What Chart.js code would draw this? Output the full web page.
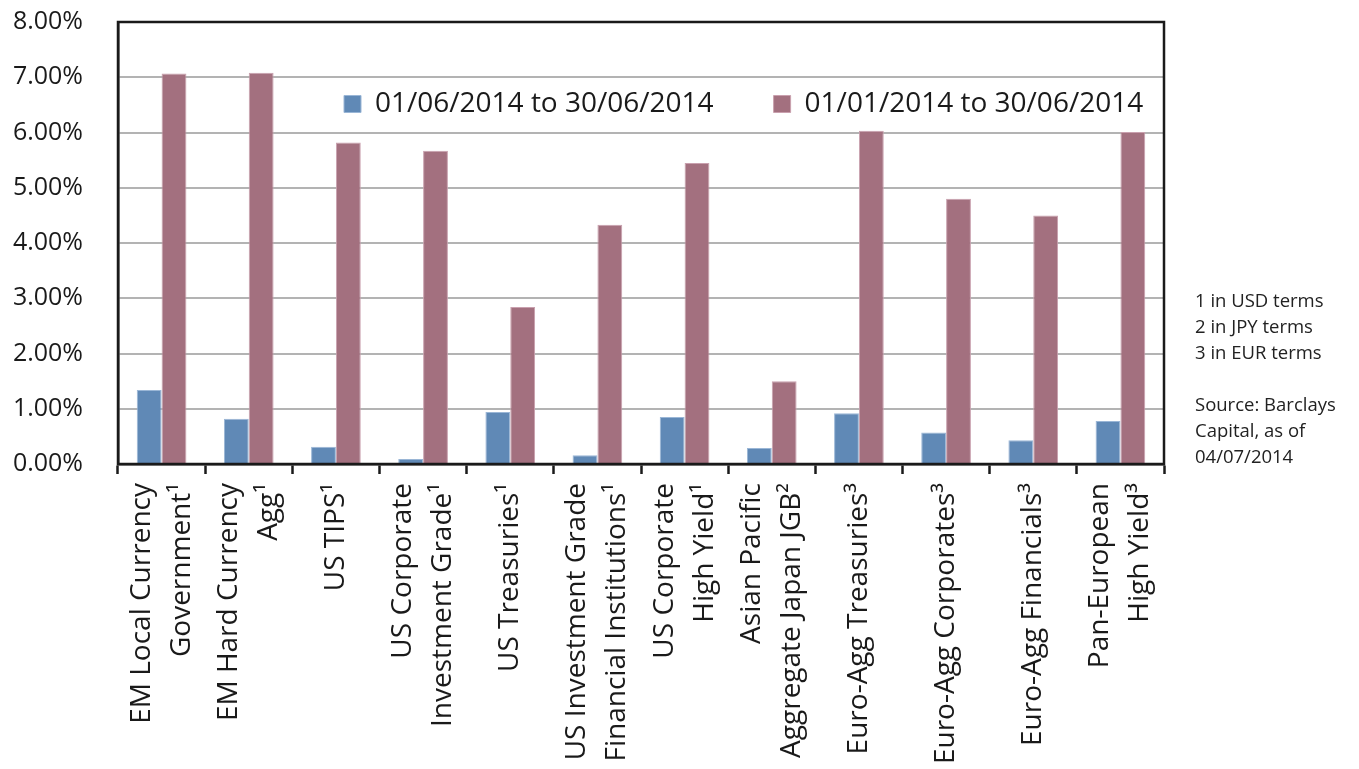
<!DOCTYPE html>
<html><head><meta charset="utf-8">
<script src="https://cdn.jsdelivr.net/npm/chart.js@4.4.1/dist/chart.umd.min.js"></script>
<style>
html,body{margin:0;padding:0;background:#fff;}
#wrap{position:relative;width:1359px;height:769px;overflow:hidden;}
#notes{position:absolute;left:1195px;top:287px;font-family:"Open Sans";font-size:18.5px;line-height:26px;color:#222;white-space:nowrap;}
</style></head><body>
<div id="wrap"><canvas id="c" width="1359" height="769"></canvas>
<div id="notes">1 in USD terms<br>2 in JPY terms<br>3 in EUR terms<br><br>Source: Barclays<br>Capital, as of<br>04/07/2014</div></div>
<script>
const categories = [
  "EM Local Currency\nGovernment¹",
  "EM Hard Currency\nAgg¹",
  "US TIPS¹",
  "US Corporate\nInvestment Grade¹",
  "US Treasuries¹",
  "US Investment Grade\nFinancial Institutions¹",
  "US Corporate\nHigh Yield¹",
  "Asian Pacific\nAggregate Japan JGB²",
  "Euro-Agg Treasuries³",
  "Euro-Agg Corporates³",
  "Euro-Agg Financials³",
  "Pan-European\nHigh Yield³"
];
const seriesNames = ["01/06/2014 to 30/06/2014", "01/01/2014 to 30/06/2014"];
const juneReturns = [1.34, 0.82, 0.31, 0.09, 0.94, 0.16, 0.85, 0.29, 0.92, 0.57, 0.43, 0.78];
const ytdReturns  = [7.07, 7.08, 5.82, 5.67, 2.84, 4.33, 5.45, 1.50, 6.03, 4.80, 4.50, 6.01];
const yTickValues = [0, 1, 2, 3, 4, 5, 6, 7, 8];

const FONT = "Open Sans";
const TEXT = "#1a1a1a";
const LINE_H = 40;

const labelLines = categories.map(c => c.split("\n"));
const xLabels = labelLines.map(l => l.length === 1 ? ["", l[0]] : l);

const framePlugin = {
  id: "frame",
  afterDatasetsDraw(chart) {
    const {ctx, chartArea: a} = chart;
    ctx.save();
    ctx.strokeStyle = TEXT;
    ctx.lineWidth = 2.5;
    ctx.strokeRect(a.left, a.top, a.right - a.left, a.bottom - a.top);
    ctx.restore();
  }
};
const legendPlace = {
  id: "legendPlace",
  beforeLayout(chart) {
    const lg = chart.legend;
    if (lg) lg.isHorizontal = () => true;
  },
  afterLayout(chart) {
    const lg = chart.legend;
    if (!lg) return;
    const P = lg.options.labels.padding;
    const w = lg.width, h = lg.height;
    lg.left = 344 - P; lg.top = 90 - P;
    lg.right = lg.left + w; lg.bottom = lg.top + h;
  }
};

new Chart(document.getElementById("c"), {
  type: "bar",
  data: {
    labels: xLabels,
    datasets: [
      {label: seriesNames[0], data: juneReturns, backgroundColor: "#6089b6", borderColor: "#9ab6d6", borderWidth: 1,
       categoryPercentage: 0.57, barPercentage: 1.0},
      {label: seriesNames[1], data: ytdReturns, backgroundColor: "#a3707f", borderColor: "#c9a0ae", borderWidth: 1,
       categoryPercentage: 0.57, barPercentage: 1.0}
    ]
  },
  options: {
    responsive: false,
    animation: false,
    layout: {padding: {left: 0, right: 195, top: 22, bottom: 0}},
    plugins: {
      legend: {
        position: "chartArea",
        align: "start",
        labels: {
          boxWidth: 17, boxHeight: 17, padding: 60, color: TEXT,
          font: {family: FONT, size: 28}
        }
      },
      tooltip: {enabled: false}
    },
    scales: {
      x: {
        grid: {offset: true, drawOnChartArea: false, drawTicks: true, tickLength: 10, tickColor: TEXT, tickWidth: 2.5},
        border: {display: true, color: TEXT, width: 2.5},
        ticks: {
          minRotation: 90, maxRotation: 90, autoSkip: false, padding: 9, labelOffset: -LINE_H / 2, color: TEXT,
          font: (ctx) => {
            const single = ctx.index !== undefined && labelLines[ctx.index] && labelLines[ctx.index].length === 1;
            return {family: FONT, size: 28, lineHeight: (single ? LINE_H / 2 : LINE_H) + "px"};
          }
        },
        afterFit: (s) => { s.height = 305; }
      },
      y: {
        min: 0, max: 8,
        afterBuildTicks: (s) => { s.ticks = yTickValues.map(v => ({value: v})); },
        grid: {color: "#b3b3b3", lineWidth: 2, drawTicks: true, tickLength: 35, tickColor: "rgba(0,0,0,0)"},
        border: {display: true, color: TEXT, width: 2.5},
        ticks: {padding: 0, color: TEXT, font: {family: FONT, size: 25},
          callback: (v) => Number(v).toFixed(2) + "%"},
        afterFit: (s) => { s.width = 118; }
      }
    }
  },
  plugins: [framePlugin, legendPlace]
});
</script>
</body></html>
